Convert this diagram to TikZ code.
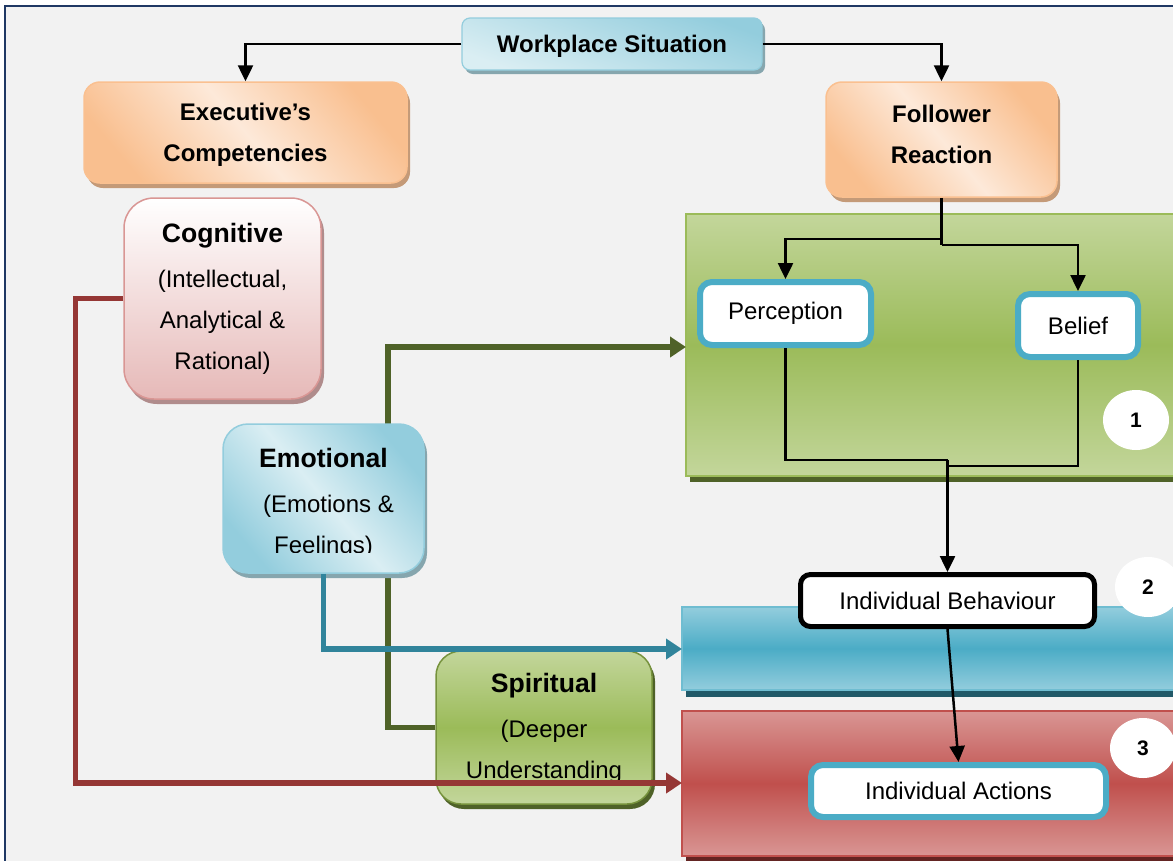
\documentclass[tikz,border=0pt]{standalone}
\usepackage{fontspec}
\setmainfont{Liberation Sans}
\usetikzlibrary{shapes.geometric,shadows,arrows.meta}

\definecolor{frameblue}{HTML}{1F3864}
\definecolor{pagebg}{HTML}{F2F2F2}
\definecolor{orangeD}{HTML}{F9BF8F}
\definecolor{orangeL}{HTML}{FDE9D9}
\definecolor{orangeB}{HTML}{FAC090}
\definecolor{orangeS}{HTML}{C49A78}
\definecolor{blueD}{HTML}{93CDDD}
\definecolor{blueL}{HTML}{DAEEF3}
\definecolor{blueS}{HTML}{86A6AE}
\definecolor{blueM}{HTML}{4BACC6}
\definecolor{blueLine}{HTML}{31849B}
\definecolor{blueDark}{HTML}{215968}
\definecolor{pinkB}{HTML}{D99694}
\definecolor{pinkF}{HTML}{E6B9B8}
\definecolor{pinkS}{HTML}{B08C8C}
\definecolor{greenL}{HTML}{C3D69B}
\definecolor{greenM}{HTML}{9BBB59}
\definecolor{greenB}{HTML}{76923C}
\definecolor{greenDark}{HTML}{4F6228}
\definecolor{redL}{HTML}{D99694}
\definecolor{redM}{HTML}{C0504D}
\definecolor{redLine}{HTML}{953735}
\definecolor{redDark}{HTML}{632523}

\tikzset{
  boxtext/.style={font=\fontsize{24}{41}\selectfont, align=center, inner sep=0pt},
  orangebox/.style={boxtext, rounded corners=16pt, draw=orangeB, line width=1.5pt,
    top color=orangeD, bottom color=orangeD, middle color=orangeL, shading angle=-50,
    drop shadow={shadow xshift=3pt, shadow yshift=-5pt, fill=orangeS, opacity=1}},
  topbox/.style={boxtext, rounded corners=8pt, draw=blueD, line width=1.2pt,
    top color=blueD, bottom color=blueL, shading angle=-20,
    drop shadow={shadow xshift=3pt, shadow yshift=-4pt, fill=blueS, opacity=1}},
  cogbox/.style={boxtext, rounded corners=30pt, draw=pinkB, line width=1.5pt,
    top color=white, bottom color=pinkF,
    drop shadow={shadow xshift=3pt, shadow yshift=-5pt, fill=pinkS, opacity=1}},
  emobox/.style={boxtext, rounded corners=25pt, draw=blueD, line width=1.5pt,
    top color=blueD, bottom color=blueD, middle color=blueL, shading angle=-50,
    drop shadow={shadow xshift=3pt, shadow yshift=-5pt, fill=blueS, opacity=1}},
  spibox/.style={boxtext, rounded corners=25pt, draw=greenB, line width=1.5pt,
    top color=greenL, bottom color=greenL, middle color=greenM,
    drop shadow={shadow xshift=3pt, shadow yshift=-5pt, fill=greenDark, opacity=1}},
  whitebox/.style={boxtext, rounded corners=12pt, fill=white, draw=blueM, line width=6pt},
  blackbox/.style={boxtext, rounded corners=10pt, fill=white, draw=black, line width=5pt},
  numdot/.style={ellipse, fill=white, minimum width=66pt, minimum height=60pt, inner sep=0pt,
    font=\fontsize{21}{24}\selectfont\bfseries},
  flow/.style={line width=2.5pt, -{Triangle[length=16pt,width=15pt]}},
  feed/.style={line width=5.5pt, -{Triangle[length=16pt,width=20pt]}},
}

\begin{document}
\begin{tikzpicture}[x=1pt, y=-1pt]
\useasboundingbox (0,0) rectangle (1173,860);
\clip (0,0) rectangle (1173,860);
\fill[white] (0,0) rectangle (1173,860);
\draw[frameblue, line width=2pt, fill=pagebg] (5,6) rectangle (1190,880);

% result panels
\fill[greenDark] (690,220) rectangle (1190,482);
\draw[greenM, line width=1.5pt, top color=greenL, bottom color=greenL, middle color=greenM]
  (686,214) rectangle (1190,476);
\fill[blueDark] (686,612) rectangle (1190,697);
\draw[blueM!80, line width=1.5pt, top color=blueD, bottom color=blueD, middle color=blueM]
  (682,607) rectangle (1190,690);
\fill[redDark] (686,716) rectangle (1190,870);
\draw[redM, line width=1.5pt, top color=redL, bottom color=redL, middle color=redM]
  (682,711) rectangle (1190,856);

\coordinate (gp) at (686,347);
\coordinate (bp) at (682,649);
\coordinate (rp) at (682,783);

% top row
\node[topbox, minimum width=300pt, minimum height=52pt] (ws) at (612,44) {};
\node[boxtext] (wstext) at (612,46) {\textbf{Workplace Situation}};
\node[orangebox, minimum width=323pt, minimum height=101pt] (ex) at (245.5,132.5) {};
\node[boxtext] (extext) at (245.5,135) {\textbf{Executive’s}\\\textbf{Competencies}};
\node[orangebox, minimum width=231pt, minimum height=115pt] (fr) at (941.5,139.5) {};
\node[boxtext] (frtext) at (941.5,134) {\textbf{Follower}\\\textbf{Reaction}};

\draw[flow] (ws.west) -| (ex.north);
\draw[flow] (ws.east) -| (fr.north);

% inside the first panel
\node[whitebox, minimum width=171pt, minimum height=63pt] (perc) at (785.5,313.5) {Perception};
\node[whitebox, minimum width=120pt, minimum height=63pt] (bel) at (1078,325.5) {Belief};
\coordinate (sl) at (941.5,239);
\coordinate (sr) at (941.5,245);
\draw[line width=2.5pt] (fr.south) -- (sr);
\draw[flow] (sl) -| (perc.north);
\draw[flow] (sr) -| (bel.north);

\node[numdot] (n1) at (1136,420) {1};
\node[numdot] (n2) at (1148,587) {2};
\node[numdot] (n3) at (1143,748) {3};

\node[blackbox, minimum width=294pt, minimum height=52pt] (ib) at (947.5,600.5)
  {Individual Behaviour};
\node[whitebox, minimum width=295pt, minimum height=52pt] (ia) at (958.5,791)
  {Individual Actions};

\coordinate (m1) at (947.5,460);
\coordinate (m2) at (947.5,466);
\draw[line width=2.5pt] (perc.south) |- (m1);
\draw[line width=2.5pt] (bel.south) |- (m2);
\draw[flow] (m1) -- (ib.north);
\draw[flow] (ib.south) -- (ia.north);

% competencies
\node[cogbox, minimum width=197pt, minimum height=201pt] (cog) at (222.5,298.5)
  {{\fontsize{26.6}{30}\selectfont\bfseries Cognitive}\\[4pt](Intellectual,\\Analytical \&\\Rational)};

\node[spibox, minimum width=216pt, minimum height=153pt] (sp) at (544,727.5) {};
\begin{scope}
  \clip (436,651) rectangle (652,779);
  \node[boxtext] (sptext) at (544,728.5)
    {{\fontsize{26.6}{30}\selectfont\bfseries Spiritual}\\[4pt](Deeper\\Understanding};
\end{scope}

\draw[feed, greenDark] (sp.west) -- (388,727.5) |- (gp);

\node[emobox, minimum width=201pt, minimum height=149pt] (emo) at (323.5,498.5) {};
\begin{scope}
  \clip (223,424) rectangle (424,552);
  \node[boxtext] (emotext) at (323.5,503)
    {{\fontsize{26.6}{30}\selectfont\bfseries Emotional}\\[4pt]\hspace*{10pt}(Emotions \&\\Feelings)};
\end{scope}

\draw[feed, blueLine] (emo.south) |- (bp);
\draw[feed, redLine] (cog.west) -- ++(-48,0) |- (rp);
\end{tikzpicture}
\end{document}
